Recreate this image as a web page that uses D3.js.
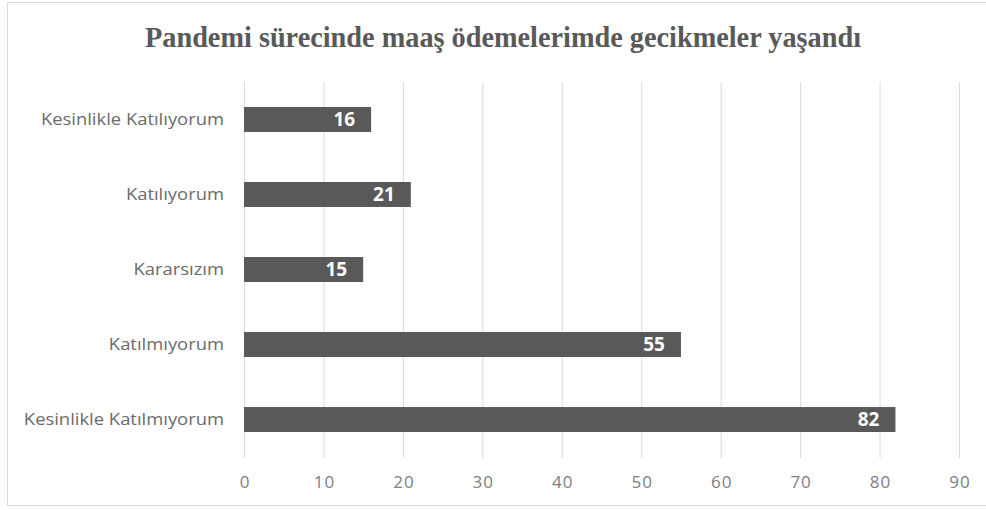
<!DOCTYPE html>
<html><head><meta charset="utf-8">
<script src="https://cdn.jsdelivr.net/npm/d3@7"></script>
<style>body{margin:0;background:#fff}svg{display:block}</style>
</head><body>
<script>
const title = "Pandemi sürecinde maaş ödemelerimde gecikmeler yaşandı";
const categories = ["Kesinlikle Katılıyorum","Katılıyorum","Kararsızım","Katılmıyorum","Kesinlikle Katılmıyorum"];
const values = [16,21,15,55,82];
const ticks = [0,10,20,30,40,50,60,70,80,90];

const W=986,H=510;
const svg=d3.select("body").append("svg").attr("width",W).attr("height",H);
svg.append("rect").attr("x",7.5).attr("y",2.5).attr("width",990).attr("height",503)
  .attr("fill","#fff").attr("stroke","#d9d9d9");

const x=d3.scaleLinear().domain([0,90]).range([244,959]);
const y=d3.scaleBand().domain(categories).range([82,457]).paddingInner(0.667).paddingOuter(0.333);

svg.append("text").attr("x",503).attr("y",47).attr("text-anchor","middle")
  .attr("font-family","Liberation Serif").attr("font-weight","bold").attr("font-size",29)
  .attr("textLength",716).attr("lengthAdjust","spacingAndGlyphs")
  .attr("fill","#595959").text(title);

const xa=d3.axisBottom(x).tickValues(ticks).tickSize(-(458-82)).tickPadding(18);
const gx=svg.append("g").attr("transform","translate(0,458)").call(xa);
gx.select(".domain").remove();
gx.selectAll(".tick line").attr("stroke","#d9d9d9");
gx.selectAll(".tick text").attr("fill","#808080").attr("font-family","Open Sans").attr("font-size",17)
  .attr("letter-spacing","1px").attr("dx","0.5px");

const ya=d3.axisLeft(y).tickSize(0).tickPadding(20);
const gy=svg.append("g").attr("transform","translate(244,0)").call(ya);
gy.select(".domain").remove();
gy.selectAll(".tick text").attr("fill","#6b6b6b").attr("font-family","Open Sans").attr("font-size",16)
  .each(function(d){ const w=this.getComputedTextLength(); this.setAttribute("textLength", w*1.15); this.setAttribute("lengthAdjust","spacingAndGlyphs"); });

svg.selectAll("rect.bar").data(values).join("rect").attr("class","bar")
  .attr("x",x(0)).attr("y",(d,i)=>y(categories[i]))
  .attr("width",d=>x(d)-x(0)).attr("height",y.bandwidth()).attr("fill","#595959");

svg.selectAll("text.val").data(values).join("text").attr("class","val")
  .attr("x",d=>x(d)-16).attr("y",(d,i)=>y(categories[i])+y.bandwidth()/2)
  .attr("dy","0.36em").attr("text-anchor","end").attr("fill","#fff")
  .attr("font-family","Open Sans").attr("font-weight","bold").attr("font-size",19)
  .text(d=>d);
</script>
</body></html>
